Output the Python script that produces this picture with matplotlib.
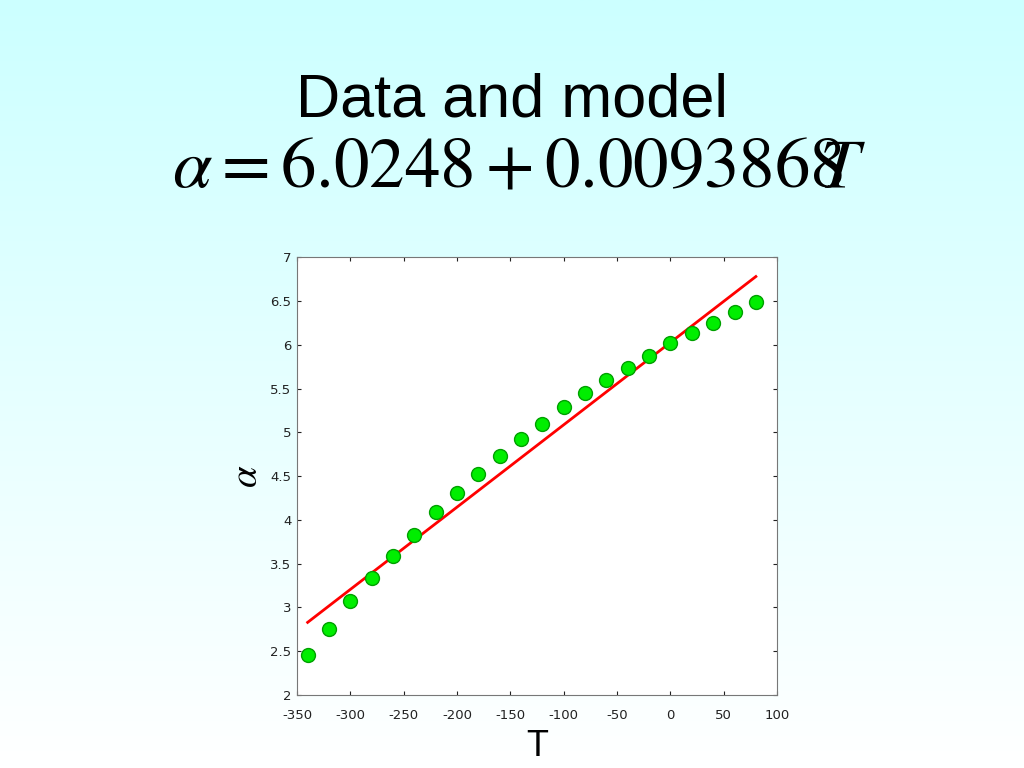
import numpy as np
import matplotlib.pyplot as plt

plt.rcParams['mathtext.fontset'] = 'stix'

# measured data (T, alpha)
T = [-340, -320, -300, -280, -260, -240, -220, -200, -180, -160, -140,
     -120, -100, -80, -60, -40, -20, 0, 20, 40, 60, 80]
alpha = [2.46, 2.76, 3.07, 3.34, 3.59, 3.83, 4.09, 4.31, 4.53, 4.73, 4.92,
         5.10, 5.29, 5.45, 5.60, 5.74, 5.87, 6.02, 6.13, 6.25, 6.38, 6.49]

# fitted line
model_T = [-340, 80]
model_alpha = [2.83, 6.78]

xticks = [-350, -300, -250, -200, -150, -100, -50, 0, 50, 100]
yticks = [2, 2.5, 3, 3.5, 4, 4.5, 5, 5.5, 6, 6.5, 7]

fig = plt.figure(figsize=(10.24, 7.68), dpi=100)

# slide background: cyan at top fading to white
bg = fig.add_axes([0, 0, 1, 1], zorder=-10)
grad = np.linspace(0, 1, 256).reshape(-1, 1)
top = np.array([0.80, 1.0, 1.0])
bottom = np.array([1.0, 1.0, 1.0])
img = top * (1 - grad[..., None]) + bottom * grad[..., None]
img = img.reshape(256, 1, 3)
bg.imshow(img, aspect='auto', extent=[0, 1, 0, 1])
bg.axis('off')

fig.text(0.5, 0.868, 'Data and model', ha='center', va='center',
         fontsize=44, family='Liberation Sans', stretch='condensed')
fig.text(0.507, 0.783, r'$\alpha = 6.0248 + 0.0093868\!\!\!T$', ha='center',
         va='center', fontsize=51)

ax = fig.add_axes([0.290, 0.095, 0.469, 0.570])
ax.plot(model_T, model_alpha, color='#FF0000', lw=2, zorder=2)
ax.plot(T, alpha, 'o', color='#00EE00', mec='#00A000', mew=1,
        ms=10, zorder=3)

ax.set_xlim(-350, 100)
ax.set_ylim(2, 7)
ax.set_xticks(xticks)
ax.set_yticks(yticks)
ax.set_xticklabels([str(t) for t in xticks])
ax.set_yticklabels(['%g' % t for t in yticks])
ax.tick_params(direction='in', length=3, width=0.8, top=True, right=True,
               labelsize=9.5, colors='#222222')
ax.tick_params(axis='x', pad=10)
ax.tick_params(axis='y', pad=4)
for s in ax.spines.values():
    s.set_color('#777777')
    s.set_linewidth(0.8)

ax.set_ylabel(r'$\alpha$', fontsize=28, labelpad=4)
ax.set_xlabel('T', fontsize=26, family='Liberation Sans', labelpad=5)

plt.savefig('out.png', dpi=100)
